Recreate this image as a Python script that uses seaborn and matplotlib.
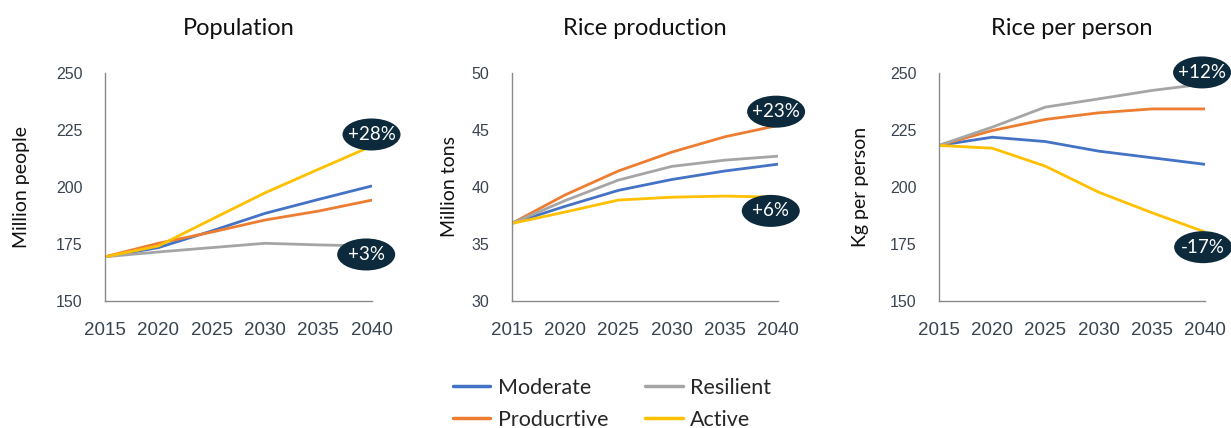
import numpy as np
import pandas as pd
import seaborn as sns
import matplotlib.pyplot as plt
from matplotlib.patches import Ellipse

years = [2015, 2020, 2025, 2030, 2035, 2040]
scenarios = ["Moderate", "Producrtive", "Resilient", "Active"]
palette = {"Moderate": "#4472C4", "Producrtive": "#ED7D31",
           "Resilient": "#A5A5A5", "Active": "#FFC000"}

# Population (million people)
pop_moderate = [169.4, 173.4, 180.7, 188.4, 194.5, 200.4]
pop_productive = [169.4, 175.3, 180.2, 185.5, 189.4, 194.2]
pop_resilient = [169.4, 171.5, 173.4, 175.3, 174.6, 174.1]
pop_active = [169.4, 174.1, 185.8, 197.4, 207.7, 217.9]

# Rice production (million tons)
prod_moderate = [36.8, 38.3, 39.7, 40.65, 41.4, 42.0]
prod_productive = [36.8, 39.3, 41.4, 43.05, 44.4, 45.4]
prod_resilient = [36.8, 38.8, 40.6, 41.8, 42.35, 42.7]
prod_active = [36.8, 37.8, 38.85, 39.1, 39.2, 39.1]

# Rice per person (kg)
pp_moderate = [218.2, 221.8, 219.9, 215.7, 212.8, 209.9]
pp_productive = [218.2, 224.7, 229.6, 232.5, 234.2, 234.2]
pp_resilient = [218.2, 226.2, 235.0, 238.6, 242.3, 245.2]
pp_active = [218.2, 217.0, 209.1, 197.7, 188.7, 180.2]

titles = ["Population", "Rice production", "Rice per person"]
ylabels = ["Million people", "Million tons", "Kg per person"]
ylims = [(150, 250), (30, 50), (150, 250)]
yticks = [[150, 175, 200, 225, 250], [30, 35, 40, 45, 50], [150, 175, 200, 225, 250]]

# bubble labels: (text, x, y)
bubbles = [
    [("+28%", 2040, 223.0), ("+3%", 2039.5, 170.4)],
    [("+23%", 2039.8, 46.6), ("+6%", 2039.3, 37.9)],
    [("+12%", 2039.7, 250.2), ("-17%", 2039.8, 173.6)],
]

panels = [
    [pop_moderate, pop_productive, pop_resilient, pop_active],
    [prod_moderate, prod_productive, prod_resilient, prod_active],
    [pp_moderate, pp_productive, pp_resilient, pp_active],
]

sns.set_style("white")
plt.rcParams["font.family"] = ["Liberation Sans", "DejaVu Sans"]
title_font = ["Lato", "DejaVu Sans"]
tick_color = "#3a4450"
spine_color = "#8a8a8a"
bubble_color = "#0c2a3c"

fig = plt.figure(figsize=(12.31, 4.28), dpi=100)
lefts = [0.0853, 0.4157, 0.7626]
labelpads = [18.5, 10, 15]
ax_w, ax_h = 0.2165, 0.533

for i, series in enumerate(panels):
    ax = fig.add_axes([lefts[i], 0.2967, ax_w, ax_h])
    rows = []
    for name, vals in zip(scenarios, series):
        for y, v in zip(years, vals):
            rows.append({"year": y, "value": v, "scenario": name})
    df = pd.DataFrame(rows)
    sns.lineplot(data=df, x="year", y="value", hue="scenario", hue_order=scenarios,
                 palette=palette, linewidth=2.0, ax=ax, legend=(i == 0))

    ax.set_xlim(2015, 2040)
    ax.set_ylim(*ylims[i])
    ax.set_xticks(years)
    ax.set_yticks(yticks[i])
    ax.set_title(titles[i], fontsize=17, family=title_font, pad=27, color="#111111")
    ax.set_ylabel(ylabels[i], fontsize=14, family=title_font, labelpad=labelpads[i],
                  color="#111111")
    ax.set_xlabel("")
    for s in ["top", "right"]:
        ax.spines[s].set_visible(False)
    for s in ["left", "bottom"]:
        ax.spines[s].set_color(spine_color)
        ax.spines[s].set_linewidth(1.0)
    ax.tick_params(axis="x", length=4, width=1, color=spine_color, labelsize=13.5,
                   labelcolor=tick_color, pad=11)
    ax.tick_params(axis="y", length=6, width=1, color=spine_color, labelsize=11.5,
                   labelcolor=tick_color, pad=10)

    # bubble sizes in pixels converted to data units
    fig_w_px, fig_h_px = 1231, 428
    ew = 58 / (ax_w * fig_w_px) * (2040 - 2015)
    eh = 32 / (ax_h * fig_h_px) * (ylims[i][1] - ylims[i][0])
    for text, bx, by in bubbles[i]:
        ax.add_patch(Ellipse((bx, by), ew, eh, fc=bubble_color, ec="none",
                             clip_on=False, zorder=9))
        ax.text(bx, by, text, ha="center", va="center", fontsize=13.5, family=title_font,
                color="white", clip_on=False, zorder=10)

    if i == 0:
        handles, labels = ax.get_legend_handles_labels()
        ax.get_legend().remove()

leg = fig.legend(handles, labels,
                 loc="center", bbox_to_anchor=(0.497, 0.057), ncol=2, frameon=False,
                 prop={"family": title_font, "size": 15.5}, handlelength=1.75,
                 columnspacing=1.7, labelspacing=0.55, handletextpad=0.35)
for line in leg.get_lines():
    line.set_linewidth(2.5)

fig.savefig("out.png", dpi=100)
